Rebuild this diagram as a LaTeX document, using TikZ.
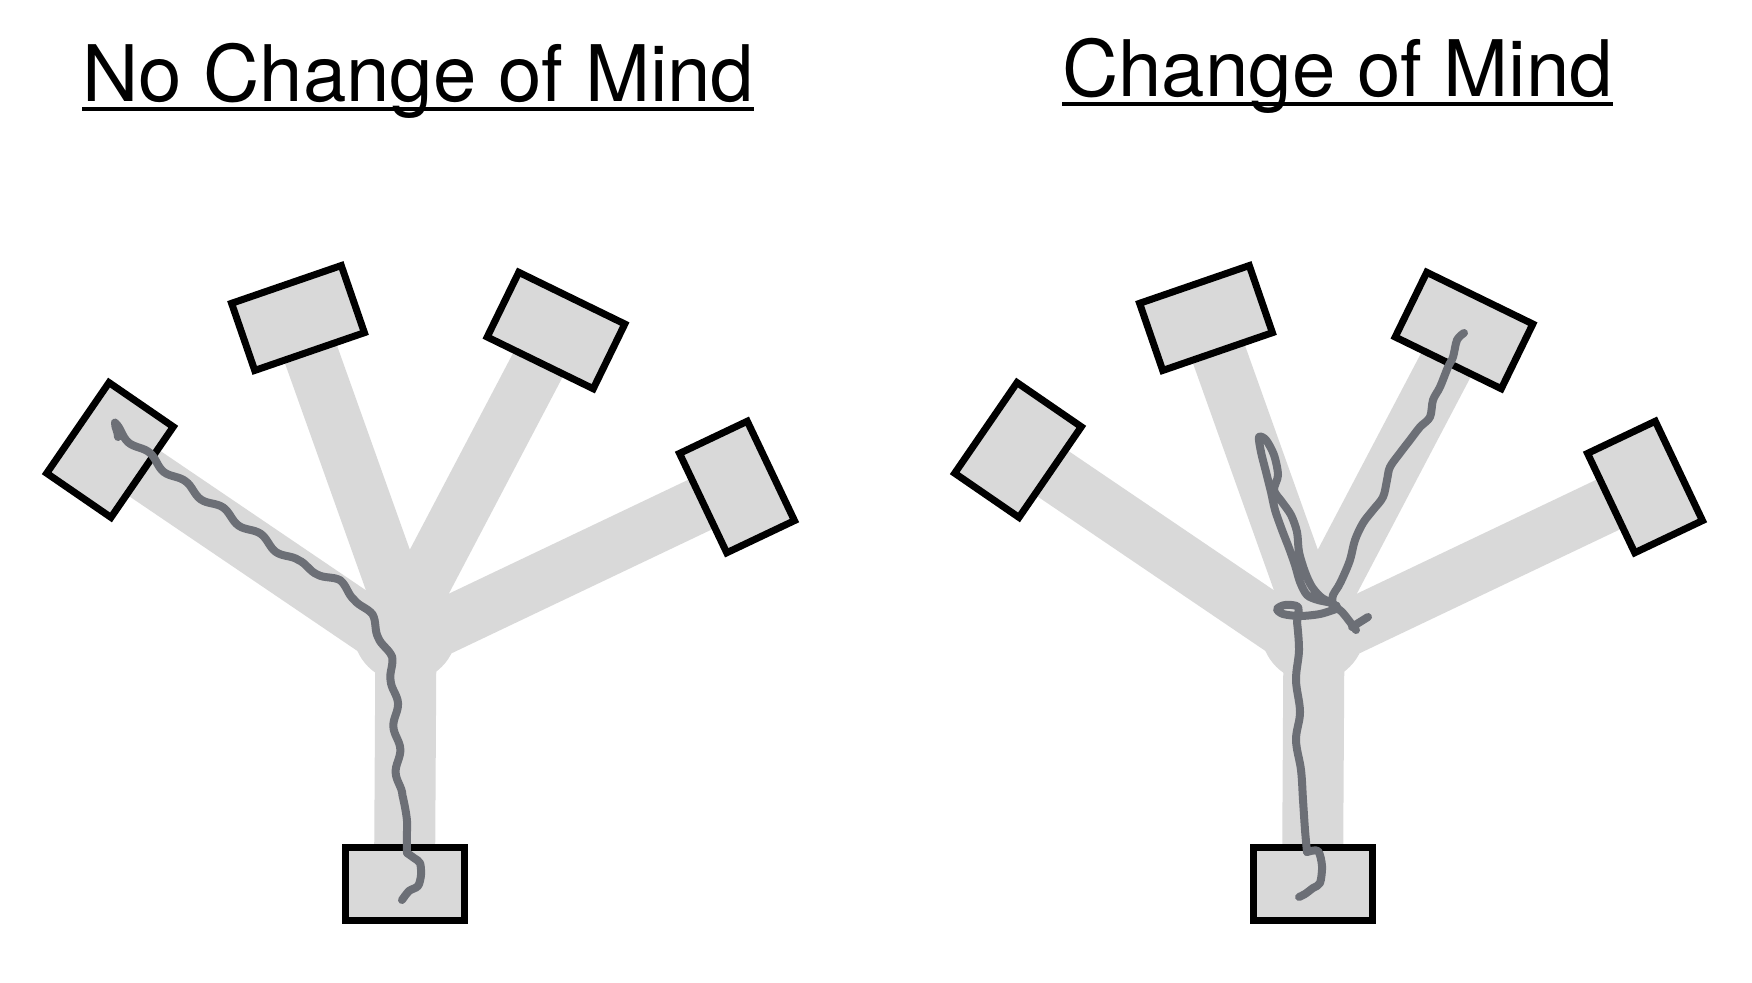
\documentclass[tikz,border=0pt]{standalone}
\usepackage{fontspec}
\setmainfont{TeX Gyre Heros}
\usetikzlibrary{decorations.pathmorphing}
\pgfdeclarelayer{bg}
\pgfsetlayers{bg,main}
\definecolor{barfill}{RGB}{217,217,217}
\definecolor{trackcol}{RGB}{108,111,118}
\begin{document}
\begin{tikzpicture}[x=1pt,y=1pt,
  target/.style={draw=black, line width=7pt, fill=barfill, inner sep=0pt, shape=rectangle},
  arm/.style={draw=barfill, line width=55pt},
  stemarm/.style={draw=barfill, line width=61pt},
  hub/.style={circle, fill=barfill, inner sep=0pt, minimum size=104pt},
  track/.style={draw=trackcol, line width=8pt, line cap=round, line join=round},
  wavy/.style={decorate, decoration={snake, amplitude=#1, segment length=46pt}},
  heading/.style={inner sep=0pt, anchor=base west, font=\fontsize{78}{94}\selectfont},
  uline/.style={draw=black, line width=4pt}]
\useasboundingbox (0,0) rectangle (1752,-982);
\foreach \p/\dx in {a/0,b/908}{
 \begin{scope}[xshift=\dx pt]
  \node[target, minimum width=110pt, minimum height=78pt, rotate=55.5] (L\p) at (110,-450) {};
  \node[target, minimum width=116pt, minimum height=71pt, rotate=19] (UL\p) at (298,-318) {};
  \node[target, minimum width=118pt, minimum height=72pt, rotate=-26] (UR\p) at (556,-330.5) {};
  \node[target, minimum width=110pt, minimum height=75pt, rotate=-64.6] (R\p) at (737,-487) {};
  \node[target, minimum width=119pt, minimum height=73pt] (B\p) at (404.5,-883.5) {};
  \coordinate (jL\p) at (405,-650);
  \coordinate (jUL\p) at (405,-618);
  \coordinate (jUR\p) at (405,-618);
  \coordinate (jR\p) at (405,-645);
  \coordinate (jB\p) at (406,-630);
  \begin{pgfonlayer}{bg}
   \draw[arm] (L\p.center) -- (jL\p);
   \draw[arm] (UL\p.center) -- (jUL\p);
   \draw[arm] (UR\p.center) -- (jUR\p);
   \draw[arm] (R\p.center) -- (jR\p);
   \draw[stemarm] (B\p.center) -- (jB\p);
   \node[hub] (H\p) at (405,-630) {};
  \end{pgfonlayer}
 \end{scope}
}
% titles
\node[heading] (Ta) at (82,-101) {No Change of Mind};
\draw[uline] ([yshift=-7.5pt]Ta.base west) -- ([yshift=-7.5pt]Ta.base east);
\node[heading] (Tb) at (1062,-96) {Change of Mind};
\draw[uline] ([yshift=-7.5pt]Tb.base west) -- ([yshift=-7.5pt]Tb.base east);
% left track
\draw[track, wavy=3pt] plot[smooth, tension=0.6] coordinates {(118,-437) (150,-465) (190,-497) (230,-525) (270,-553) (305,-577) (338,-592) (365,-614) (385,-645) (398,-680) (402,-720) (404,-760) (406,-800) (407,-853)};
\draw[track] plot[smooth, tension=0.5] coordinates {(407,-853) (414,-858) (420,-863) (421,-875) (418,-886) (409,-891) (402,-900)};
% right tracks
\draw[track] plot[smooth, tension=0.55] coordinates {(1464,-333) (1457,-340) (1453,-357) (1448,-367) (1440,-387) (1433,-400) (1430,-417) (1420,-427) (1410,-440) (1400,-453) (1390,-467) (1387,-480) (1383,-497) (1373,-510) (1363,-523) (1355,-540) (1350,-560) (1343,-577) (1338,-587) (1333,-595) (1332,-605)};
\draw[track] plot[smooth, tension=0.5] coordinates {(1333,-603) (1318,-600) (1307,-595) (1300,-582) (1295,-565) (1289,-548) (1282,-530) (1275,-510) (1271,-492) (1266,-472) (1261,-452) (1259,-437) (1266,-440) (1274,-455) (1278,-475) (1274,-490) (1282,-502) (1291,-515) (1297,-532) (1299,-552) (1305,-572) (1312,-587) (1322,-598) (1333,-603)};
\draw[track] plot[smooth, tension=0.5] coordinates {(1336,-609) (1320,-614) (1300,-616) (1283,-614) (1277,-609) (1285,-605) (1298,-607) (1297,-622)};
\draw[track] plot[smooth, tension=0.6] coordinates {(1297,-622) (1299,-650) (1296,-680) (1300,-712) (1296,-740) (1301,-770) (1303,-800) (1305,-830) (1307,-852)};
\draw[track] plot[smooth, tension=0.5] coordinates {(1307,-852) (1318,-851) (1322,-866) (1320,-883) (1313,-888) (1305,-894) (1299,-897)};
\draw[track] plot[smooth, tension=0.5] coordinates {(1333,-605) (1342,-612) (1350,-622) (1356,-630)};
\draw[track] (1352,-627) -- (1368,-617);
\draw[track, line width=4pt] (1335,-607) circle[radius=4];
\end{tikzpicture}
\end{document}
